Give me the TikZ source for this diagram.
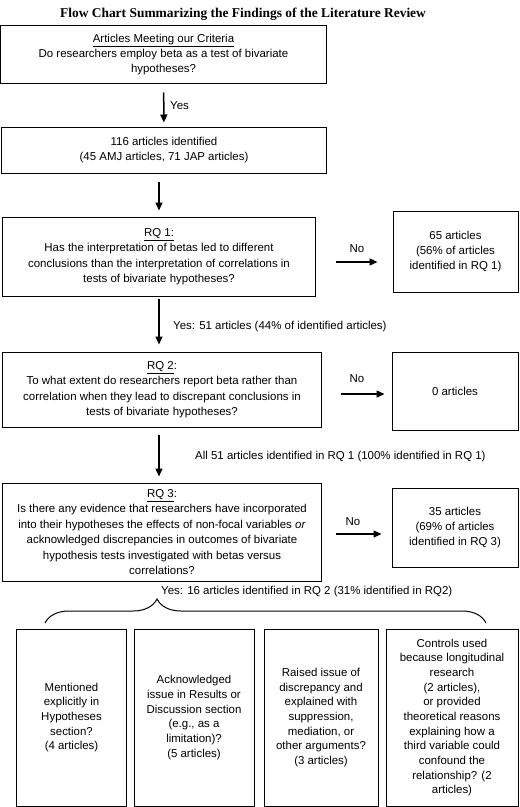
\documentclass[tikz,border=0pt]{standalone}
\usepackage{fontspec}
\setmainfont{Liberation Sans}
\newfontfamily\titlefont{Liberation Serif}
\usetikzlibrary{arrows.meta,positioning,decorations.pathreplacing}

\begin{document}
\begin{tikzpicture}[x=1bp, y=-1bp,
  box/.style={draw, line width=1bp, align=center, inner sep=0pt,
              font=\fontsize{11.5}{15.5}\selectfont},
  lowbox/.style={box, minimum height=177bp, font=\fontsize{11.5}{14.7}\selectfont},
  lbl/.style={inner sep=0pt, font=\fontsize{11.5}{14}\selectfont},
  arr/.style={-{Triangle[length=8bp,width=7bp]}, line width=1.5bp},
  >=Stealth]
  \useasboundingbox (0,0) rectangle (520,807);
  \node[font=\titlefont\bfseries\fontsize{13.5}{16}\selectfont] (title) at (243,14)
       {Flow Chart Summarizing the Findings of the Literature Review};
  \node[box, minimum width=325bp, minimum height=57bp] (crit) at (163.5,54.5)
       {\underline{Articles Meeting our Criteria}\\ Do researchers employ beta as a test of bivariate\\ hypotheses?};
  \node[box, minimum width=324bp, minimum height=46bp] (found) at (164,150)
       {116 articles identified\\ (45 AMJ articles, 71 JAP articles)};
  \node[box, minimum width=312bp, minimum height=79bp] (rq1) at (159,256.5)
       {\underline{RQ 1:}\\ Has the interpretation of betas led to different\\ conclusions than the interpretation of correlations in\\ tests of bivariate hypotheses?};
  \node[box, minimum width=125bp, minimum height=81bp] (no1) at (455.5,251.5)
       {65 articles\\ (56\% of articles\\ identified in RQ 1)};
  \node[box, minimum width=318bp, minimum height=75bp] (rq2) at (162,389.5)
       {\underline{RQ 2}:\\ To what extent do researchers report beta rather than\\ correlation when they lead to discrepant conclusions in\\ tests of bivariate hypotheses?};
  \node[box, minimum width=126bp, minimum height=78bp] (no2) at (455,391) {0 articles};
  \node[box, minimum width=318bp, minimum height=98bp] (rq3) at (162,532)
       {\underline{RQ 3}:\\ Is there any evidence that researchers have incorporated\\ into their hypotheses the effects of non-focal variables \textit{or}\\ acknowledged discrepancies in outcomes of bivariate\\ hypothesis tests investigated with betas versus\\ correlations?};
  \node[box, minimum width=126bp, minimum height=79bp] (no3) at (455,527.5)
       {35 articles\\ (69\% of articles\\ identified in RQ 3)};
  \node[lowbox, minimum width=109bp] (hyp) at (71.5,717.5)
       {Mentioned\\ explicitly in\\ Hypotheses\\ section?\\ (4 articles)};
  \node[lowbox, minimum width=120bp] (disc) at (194,717.5)
       {Acknowledged\\ issue in Results or\\ Discussion section\\ (e.g., as a\\ limitation)?\\ (5 articles)};
  \node[lowbox, minimum width=114bp] (expl) at (321,717.5)
       {Raised issue of\\ discrepancy and\\ explained with\\ suppression,\\ mediation, or\\ other arguments?\\ (3 articles)};
  \node[lowbox, minimum width=132bp] (ctrl) at (452,717.5)
       {Controls used\\ because longitudinal\\ research\\ (2 articles),\\ or provided\\ theoretical reasons\\ explaining how a\\ third variable could\\ confound the\\ relationship? (2\\ articles)};

  \draw[arr, shorten <=9bp, shorten >=4bp] (crit) -- (found);
  \draw[arr, shorten <=8bp, shorten >=6bp] (found.south -| rq1.north) -- (rq1.north);
  \draw[arr, shorten <=2bp, shorten >=7bp] (rq1.south) -- (rq1.south |- rq2.north);
  \draw[arr, shorten <=7bp, shorten >=6bp] (rq2.south -| rq1.south) -- (rq3.north -| rq1.south);
  \draw[arr, shorten <=20bp, shorten >=15bp] ([yshift=-5.5bp]rq1.east) -- ([yshift=-5.5bp]rq1.east -| no1.west);
  \draw[arr, shorten <=19bp, shorten >=7bp] ([yshift=-4.5bp]rq2.east) -- ([yshift=-4.5bp]rq2.east -| no2.west);
  \draw[arr, shorten <=14bp, shorten >=10bp] ([yshift=-2bp]rq3.east) -- ([yshift=-2bp]rq3.east -| no3.west);

  \node[lbl, anchor=west] (yes0) at (170,106) {Yes};
  \node[lbl] (n1) at (357,249) {No};
  \node[lbl, anchor=west] (yes1) at (173,327) {Yes: 51 articles (44\% of identified articles)};
  \node[lbl] (n2) at (357,379) {No};
  \node[lbl, anchor=west] (all) at (195,457) {All 51 articles identified in RQ 1 (100\% identified in RQ 1)};
  \node[lbl] (n3) at (353,522) {No};
  \node[lbl, anchor=west] (yes3) at (161,592) {Yes: 16 articles identified in RQ 2 (31\% identified in RQ2)};

  \coordinate (bl) at (45,623);
  \coordinate (br) at (486,623);
  \draw[line width=1bp, decorate, decoration={brace, amplitude=24bp, aspect=0.254}] (bl) -- (br);
\end{tikzpicture}
\end{document}
